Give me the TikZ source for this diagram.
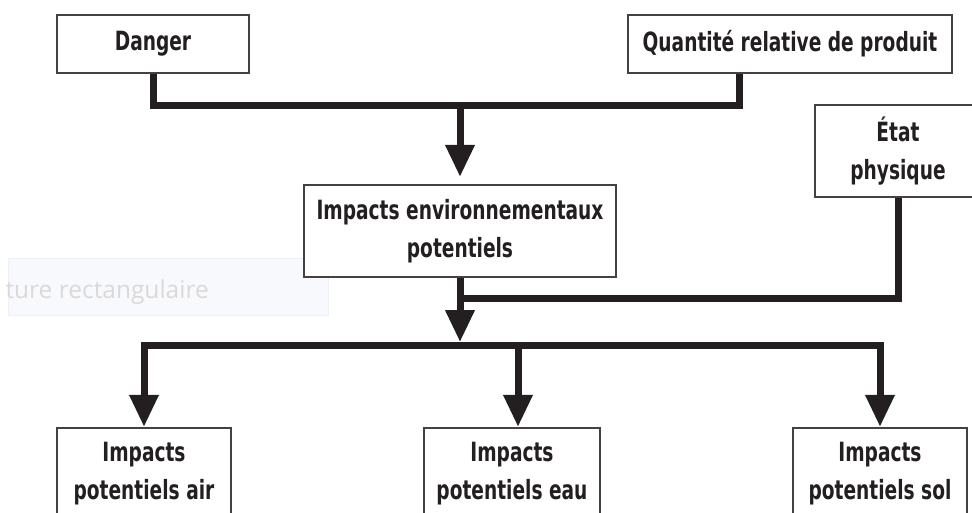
\documentclass[tikz,border=0pt]{standalone}
\usepackage{fontspec}
\setmainfont{DejaVu Sans Condensed}[FakeStretch=0.78]
\newfontfamily\ghostfont{Open Sans}
\usetikzlibrary{arrows.meta}
\definecolor{ink}{HTML}{231F20}
\definecolor{ghostfill}{HTML}{F7F9FC}
\definecolor{ghostline}{HTML}{EDF1F7}
\definecolor{ghosttext}{HTML}{DDD8D8}
\tikzset{box/.style={draw=ink!85,line width=2.4pt,align=center,inner sep=0pt,text=ink,fill=white,font=\bfseries\fontsize{26.5}{38}\selectfont},bar/.style={draw=ink,line width=7pt,line join=miter},arrow/.style={bar,-{Triangle[width=28pt,length=32pt]}},ghost/.style={text=ghosttext,font=\ghostfont\fontsize{24.5}{28}\selectfont}}

\begin{document}
\begin{tikzpicture}[x=1pt,y=-1pt]
\useasboundingbox (0,0) rectangle (972,512);
\node[draw=ghostline,fill=ghostfill,minimum width=320pt,minimum height=57pt,inner sep=0pt] (ghostbox) at (168,286.5) {};
\node[ghost,anchor=base west] (ghostlabel) at (2,298) {ture rectangulaire};
\node[box,minimum width=192pt,minimum height=58pt] (danger) at (153,44) {Danger};
\node[box,minimum width=324pt,minimum height=58pt] (quantite) at (790,44) {Quantité relative de produit};
\node[box,minimum width=312pt,minimum height=92pt] (env) at (460,231) {Impacts environnementaux\\potentiels};
\node[box,minimum width=166pt,minimum height=92pt] (etat) at (898,151) {État\\physique};
\node[box,minimum width=174pt,minimum height=92pt] (air) at (144,474) {Impacts\\potentiels air};
\node[box,minimum width=176pt,minimum height=92pt] (eau) at (512,474) {Impacts\\potentiels eau};
\node[box,minimum width=174pt,minimum height=92pt] (sol) at (880,474) {Impacts\\potentiels sol};
\coordinate (topjoin) at (460,105); \coordinate (etatjoin) at (460,298); \coordinate (midjoin) at (460,345);
\coordinate (qfoot) at ([xshift=-51pt]quantite.south); \coordinate (eaudrop) at ([xshift=6pt]eau.north);
\draw[bar] (danger.south) |- (topjoin) -| (qfoot); \draw[arrow,shorten >=7pt] (topjoin) -- (env.north);
\draw[bar] (etat.south) |- (etatjoin); \draw[arrow,shorten >=3pt] (env.south) -- (midjoin);
\draw[arrow] (midjoin) -| (air.north); \draw[arrow] (midjoin) -| (sol.north); \draw[arrow] (eaudrop |- midjoin) -- (eaudrop);
\end{tikzpicture}
\end{document}
